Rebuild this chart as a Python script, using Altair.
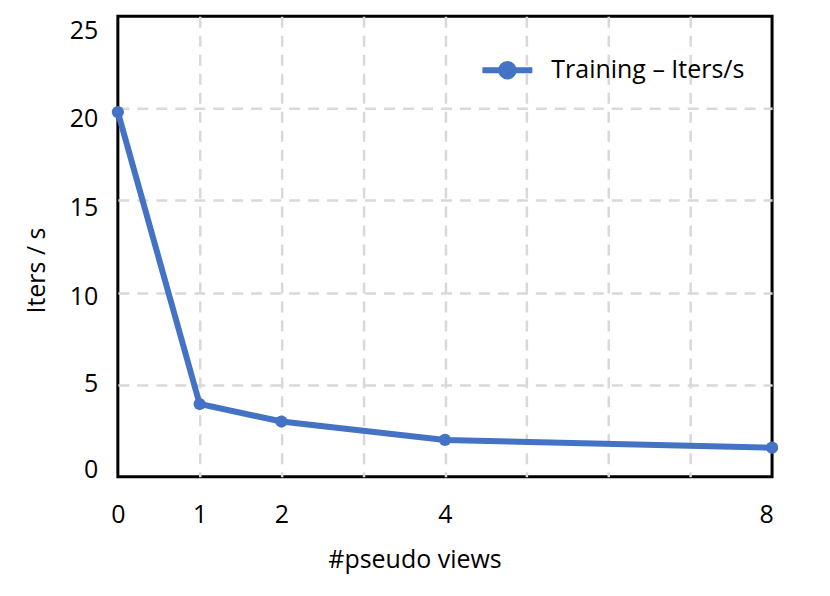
import altair as alt
import pandas as pd

views = [0, 1, 2, 4, 8]
iters = [19.8, 3.95, 3.0, 2.0, 1.58]
series = ["Training – Iters/s"] * len(views)
x_grid = [0, 1, 2, 3, 4, 5, 6, 7, 8]
x_labels = [0, 1, 2, 4, 8]
y_ticks = [0, 5, 10, 15, 20, 25]
y_label_shift = {25: 14, 20: 10, 15: 7, 10: 4, 5: -1, 0: -7}
x_label_shift = {8: -6}

df = pd.DataFrame({"views": views, "iters": iters, "series": series})

FONT = "Open Sans"
FS = 25
BLUE = "#4472C4"
label_test = " || ".join(f"datum.value == {v}" for v in x_labels)

legend_symbol = ("M -1 0 L 1 0 M 0.25 0 A 0.25 0.25 0 1 1 -0.25 0 "
                 "A 0.25 0.25 0 1 1 0.25 0 Z")


def shift_cond(mapping):
    return {"condition": [{"test": f"datum.value == {k}", "value": v}
                          for k, v in mapping.items()],
            "value": 0}


chart = alt.Chart(df).mark_line(
    strokeWidth=6,
    point=alt.OverlayMarkDef(size=150, filled=True, opacity=1),
).encode(
    x=alt.X("views:Q",
            scale=alt.Scale(domain=[0, 8], nice=False),
            axis=alt.Axis(values=x_grid, title="#pseudo views",
                          labelExpr=f"({label_test}) ? datum.label : ''",
                          labelFlush=False,
                          labelOffset=shift_cond(x_label_shift),
                          gridOpacity={"condition": {"test": "datum.value == 0 || datum.value == 8",
                                                     "value": 0}, "value": 1},
                          titleX=297, titleAlign="center",
                          labelPadding=26, titlePadding=20)),
    y=alt.Y("iters:Q",
            scale=alt.Scale(domain=[0, 25], nice=False),
            axis=alt.Axis(values=y_ticks, title="Iters / s",
                          labelFlush=False,
                          labelOffset=shift_cond(y_label_shift),
                          gridOpacity={"condition": {"test": "datum.value == 0 || datum.value == 25",
                                                     "value": 0}, "value": 1},
                          titleX=-81, titleY=254, titleBaseline="middle",
                          titleAlign="center", titleAngle=270,
                          labelPadding=20)),
    color=alt.Color("series:N",
                    scale=alt.Scale(range=[BLUE]),
                    legend=alt.Legend(title=None, orient="none",
                                      legendX=362, legendY=26,
                                      symbolType=legend_symbol,
                                      symbolSize=2500,
                                      symbolStrokeWidth=6,
                                      symbolFillColor=BLUE,
                                      symbolStrokeColor=BLUE,
                                      labelOffset=16,
                                      labelFontSize=FS,
                                      labelFont=FONT,
                                      labelColor="#000000",
                                      labelLimit=400)),
).properties(
    width=655,
    height=461,
    autosize=alt.AutoSizeParams(type="none"),
    padding={"left": 110, "top": 8, "right": 50, "bottom": 100},
).configure_view(
    stroke="#000000",
    strokeWidth=3,
).configure_axis(
    labelFont=FONT,
    titleFont=FONT,
    labelFontSize=FS,
    titleFontSize=FS,
    titleFontWeight="normal",
    labelColor="#000000",
    titleColor="#000000",
    domain=False,
    ticks=False,
    grid=True,
    gridColor="#d9d9d9",
    gridWidth=2.5,
    gridDash=[11, 8],
)

chart.save("out.html", embed_options={"renderer": "svg", "actions": False})
